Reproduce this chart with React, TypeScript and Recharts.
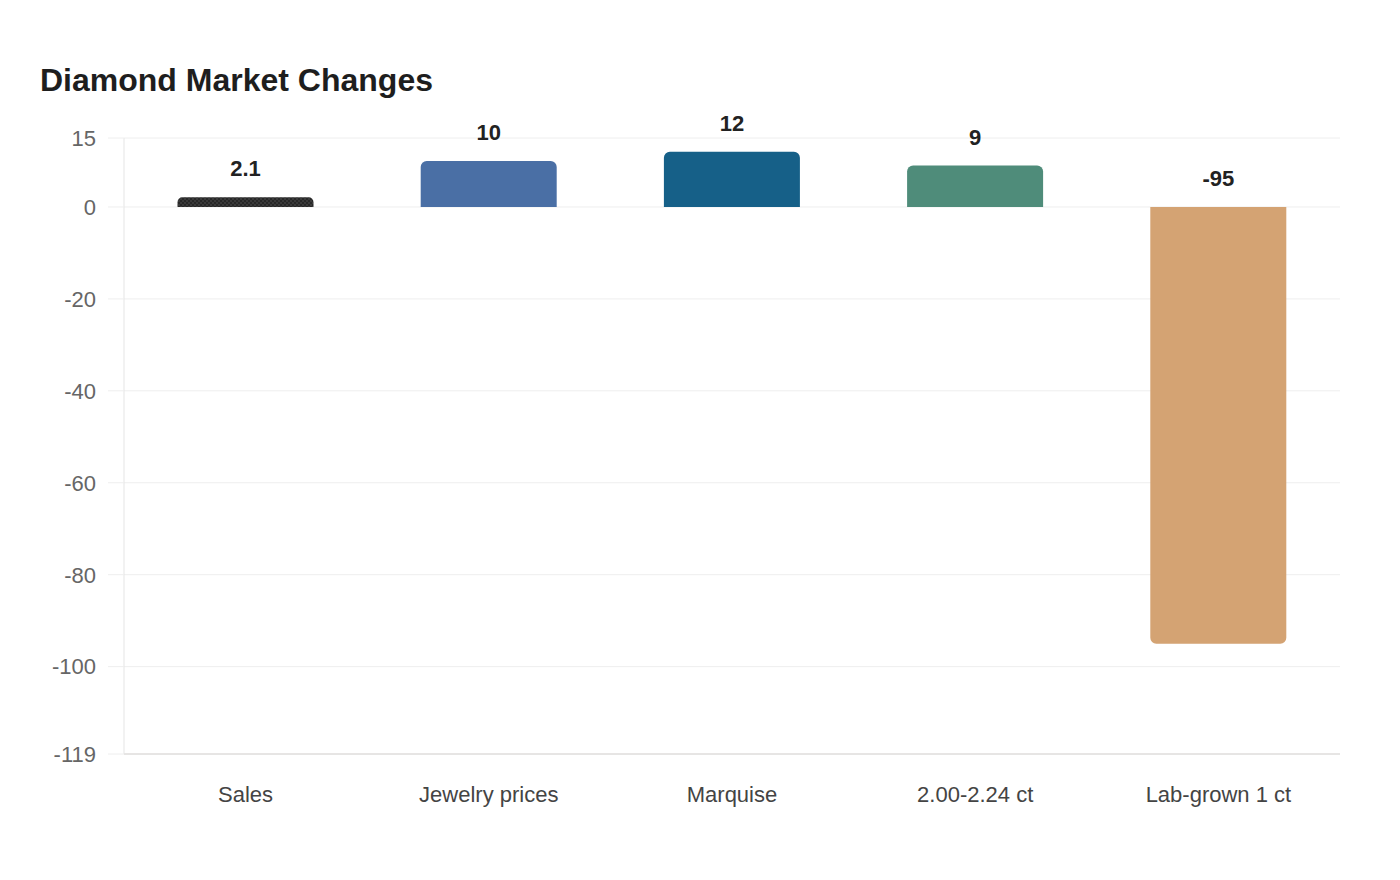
import { BarChart, Bar, XAxis, YAxis, CartesianGrid, Cell, LabelList } from 'recharts';

const categories = ['Sales', 'Jewelry prices', 'Marquise', '2.00-2.24 ct', 'Lab-grown 1 ct'];
const changes = [2.1, 10, 12, 9, -95];
const barColors = ['url(#salesDots)', '#4a6fa5', '#166088', '#4f8c7a', '#d4a373'];
const yTicks = [15, 0, -20, -40, -60, -80, -100, -119];

const data = categories.map((name, i) => ({ name, value: changes[i] }));

const font = '"Liberation Sans", Arial, Helvetica, sans-serif';

function ValueLabel(props) {
  const { x, y, width, height, value } = props;
  const top = Math.min(y, y + height);
  return (
    <text
      x={x + width / 2}
      y={top - 21}
      textAnchor="middle"
      fontFamily={font}
      fontSize={22}
      fontWeight="bold"
      fill="#222"
    >
      {value}
    </text>
  );
}

export default function App() {
  return (
    <div style={{ position: 'relative', width: 1384, height: 864, fontFamily: font, background: '#fff' }}>
      <svg width="0" height="0" style={{ position: 'absolute' }}>
        <defs>
          <pattern id="salesDots" width="4" height="4" patternUnits="userSpaceOnUse">
            <rect width="4" height="4" fill="#3a3a3a" />
            <circle cx="1" cy="1" r="0.9" fill="#1f1f1f" />
            <circle cx="3" cy="3" r="0.9" fill="#1f1f1f" />
          </pattern>
        </defs>
      </svg>
      <div
        style={{
          position: 'absolute',
          left: 32,
          top: 54,
          fontSize: 32,
          fontWeight: 'bold',
          color: '#1e1e1e',
        }}
      >
        Diamond Market Changes
      </div>
      <BarChart
        width={1384}
        height={820}
        data={data}
        margin={{ top: 130, right: 52, bottom: 14, left: 0 }}
        barCategoryGap="22%"
      >
        <CartesianGrid vertical={false} stroke="#eeeeee" />
        <XAxis
          dataKey="name"
          height={60}
          tickLine={false}
          tickMargin={26}
          axisLine={{ stroke: '#d6d3d1' }}
          tick={{ fill: '#444', fontSize: 22, fontFamily: font }}
        />
        <YAxis
          width={116}
          domain={[-119, 15]}
          ticks={yTicks}
          interval={0}
          tickSize={16}
          tickMargin={12}
          tickLine={{ stroke: '#eeeeee' }}
          axisLine={{ stroke: '#e5e5e5' }}
          tick={{ fill: '#666', fontSize: 22, fontFamily: font }}
        />
        <Bar dataKey="value" radius={[6, 6, 0, 0]} isAnimationActive={false}>
          {data.map((d, i) => (
            <Cell key={d.name} fill={barColors[i]} />
          ))}
          <LabelList dataKey="value" content={ValueLabel} />
        </Bar>
      </BarChart>
    </div>
  );
}
